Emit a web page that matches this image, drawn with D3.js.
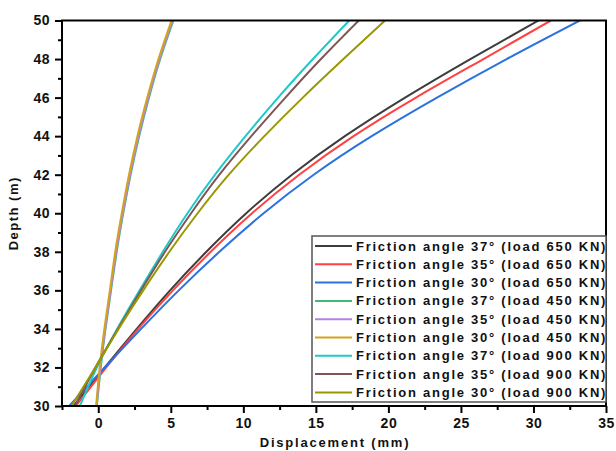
<!DOCTYPE html>
<html><head><meta charset="utf-8">
<script src="https://cdn.jsdelivr.net/npm/d3@7"></script>
<style>body{margin:0;background:#fff}svg{display:block}text{font-family:"Liberation Sans",Arial,sans-serif;font-weight:bold}</style>
</head><body><svg id="c" width="616" height="451"></svg>
<script>
const depth = [30,32,34,36,38,40,42,44,46,48,50];
const seriesNames = [
 "Friction angle 37° (load 650 KN)","Friction angle 35° (load 650 KN)","Friction angle 30° (load 650 KN)",
 "Friction angle 37° (load 450 KN)","Friction angle 35° (load 450 KN)","Friction angle 30° (load 450 KN)",
 "Friction angle 37° (load 900 KN)","Friction angle 35° (load 900 KN)","Friction angle 30° (load 900 KN)"];
const phi37_650 = [-1.7,0.45,2.65,4.95,7.45,10.2,13.35,17.0,21.15,25.65,30.35];
const phi35_650 = [-1.55,0.55,2.75,5.15,7.75,10.6,13.85,17.6,21.9,26.55,31.2];
const phi30_650 = [-2.0,0.45,2.95,5.55,8.35,11.4,14.85,18.85,23.35,28.15,33.2];
const phi37_450 = [-0.1,0.17,0.5,0.88,1.27,1.72,2.23,2.82,3.5,4.27,5.18];
const phi35_450 = [-0.12,0.14,0.47,0.85,1.23,1.68,2.19,2.77,3.45,4.22,5.12];
const phi30_450 = [-0.15,0.1,0.42,0.8,1.17,1.62,2.12,2.7,3.38,4.15,5.05];
const phi37_900 = [-1.27,-0.1,1.3,2.85,4.45,6.15,8.05,10.15,12.4,14.8,17.3];
const phi35_900 = [-1.6,-0.2,1.35,2.95,4.6,6.4,8.35,10.55,12.9,15.35,17.96];
const phi30_900 = [-1.85,-0.2,1.4,3.1,4.9,6.85,9.0,11.45,14.1,16.9,19.77];
const seriesValues = [phi37_650,phi35_650,phi30_650,phi37_450,phi35_450,phi30_450,phi37_900,phi35_900,phi30_900];
const colors = ["#3d3d3d","#ff4141","#2b72e0","#40b878","#b481e6","#d6a21e","#1ec9c9","#7f5555","#9a9700"];
const xTicks = [0,5,10,15,20,25,30,35];
const xMinor = [-2.5,2.5,7.5,12.5,17.5,22.5,27.5,32.5];
const yTicks = [30,32,34,36,38,40,42,44,46,48,50];
const yMinor = [31,33,35,37,39,41,43,45,47,49];

const svg = d3.select("#c");
const L=62, R=606, T=20.5, B=406;
const x = d3.scaleLinear().domain([-2.5,35]).range([L,R]);
const y = d3.scaleLinear().domain([30,50]).range([B,T]);

svg.append("clipPath").attr("id","clip").append("rect").attr("x",L).attr("y",T).attr("width",R-L).attr("height",B-T);

const line = d3.line().curve(d3.curveNatural);
const g = svg.append("g").attr("clip-path","url(#clip)");
seriesValues.forEach((vals,i)=>{
  g.append("path").attr("fill","none").attr("stroke",colors[i]).attr("stroke-width",2)
   .attr("d", line(vals.map((v,j)=>[x(v), y(depth[j])])));
});

// axes
const xAx = svg.append("g").attr("transform",`translate(0,${B})`)
  .call(d3.axisBottom(x).tickValues(xTicks).tickSize(7).tickPadding(5).tickFormat(d3.format("d")));
const xAxm = svg.append("g").attr("transform",`translate(0,${B})`)
  .call(d3.axisBottom(x).tickValues(xMinor).tickSize(4).tickFormat(""));
const yAx = svg.append("g").attr("transform",`translate(${L},0)`)
  .call(d3.axisLeft(y).tickValues(yTicks).tickSize(7).tickPadding(5).tickFormat(d3.format("d")));
const yAxm = svg.append("g").attr("transform",`translate(${L},0)`)
  .call(d3.axisLeft(y).tickValues(yMinor).tickSize(4).tickFormat(""));
[xAx,xAxm,yAx,yAxm].forEach(a=>{
  a.select(".domain").remove();
  a.selectAll(".tick line").attr("stroke","#000").attr("stroke-width",2);
  a.selectAll("text").attr("font-size",14).attr("fill","#111").style("letter-spacing","0.5px");
});
// frame
svg.append("rect").attr("x",L).attr("y",T).attr("width",R-L).attr("height",B-T)
  .attr("fill","none").attr("stroke","#000").attr("stroke-width",2);

// titles
svg.append("text").attr("x",(L+R)/2+1).attr("y",447).attr("text-anchor","middle")
  .attr("font-size",13).style("letter-spacing","1.8px").attr("fill","#111").text("Displacement (mm)");
svg.append("text").attr("transform",`translate(18,${(T+B)/2}) rotate(-90)`).attr("text-anchor","middle")
  .attr("font-size",13).style("letter-spacing","1.5px").attr("fill","#111").text("Depth (m)");

// legend
const lg = svg.append("g");
lg.append("rect").attr("x",312).attr("y",236).attr("width",294).attr("height",166)
  .attr("fill","#fff").attr("stroke","#555").attr("stroke-width",1.5);
seriesNames.forEach((n,i)=>{
  const yy = 246 + i*18.3;
  lg.append("line").attr("x1",315).attr("x2",352).attr("y1",yy).attr("y2",yy)
    .attr("stroke",colors[i]).attr("stroke-width",2);
  lg.append("text").attr("x",356).attr("y",yy+4.5).attr("font-size",13)
    .style("letter-spacing","1.75px").attr("fill","#111").text(n);
});
</script></body></html>
